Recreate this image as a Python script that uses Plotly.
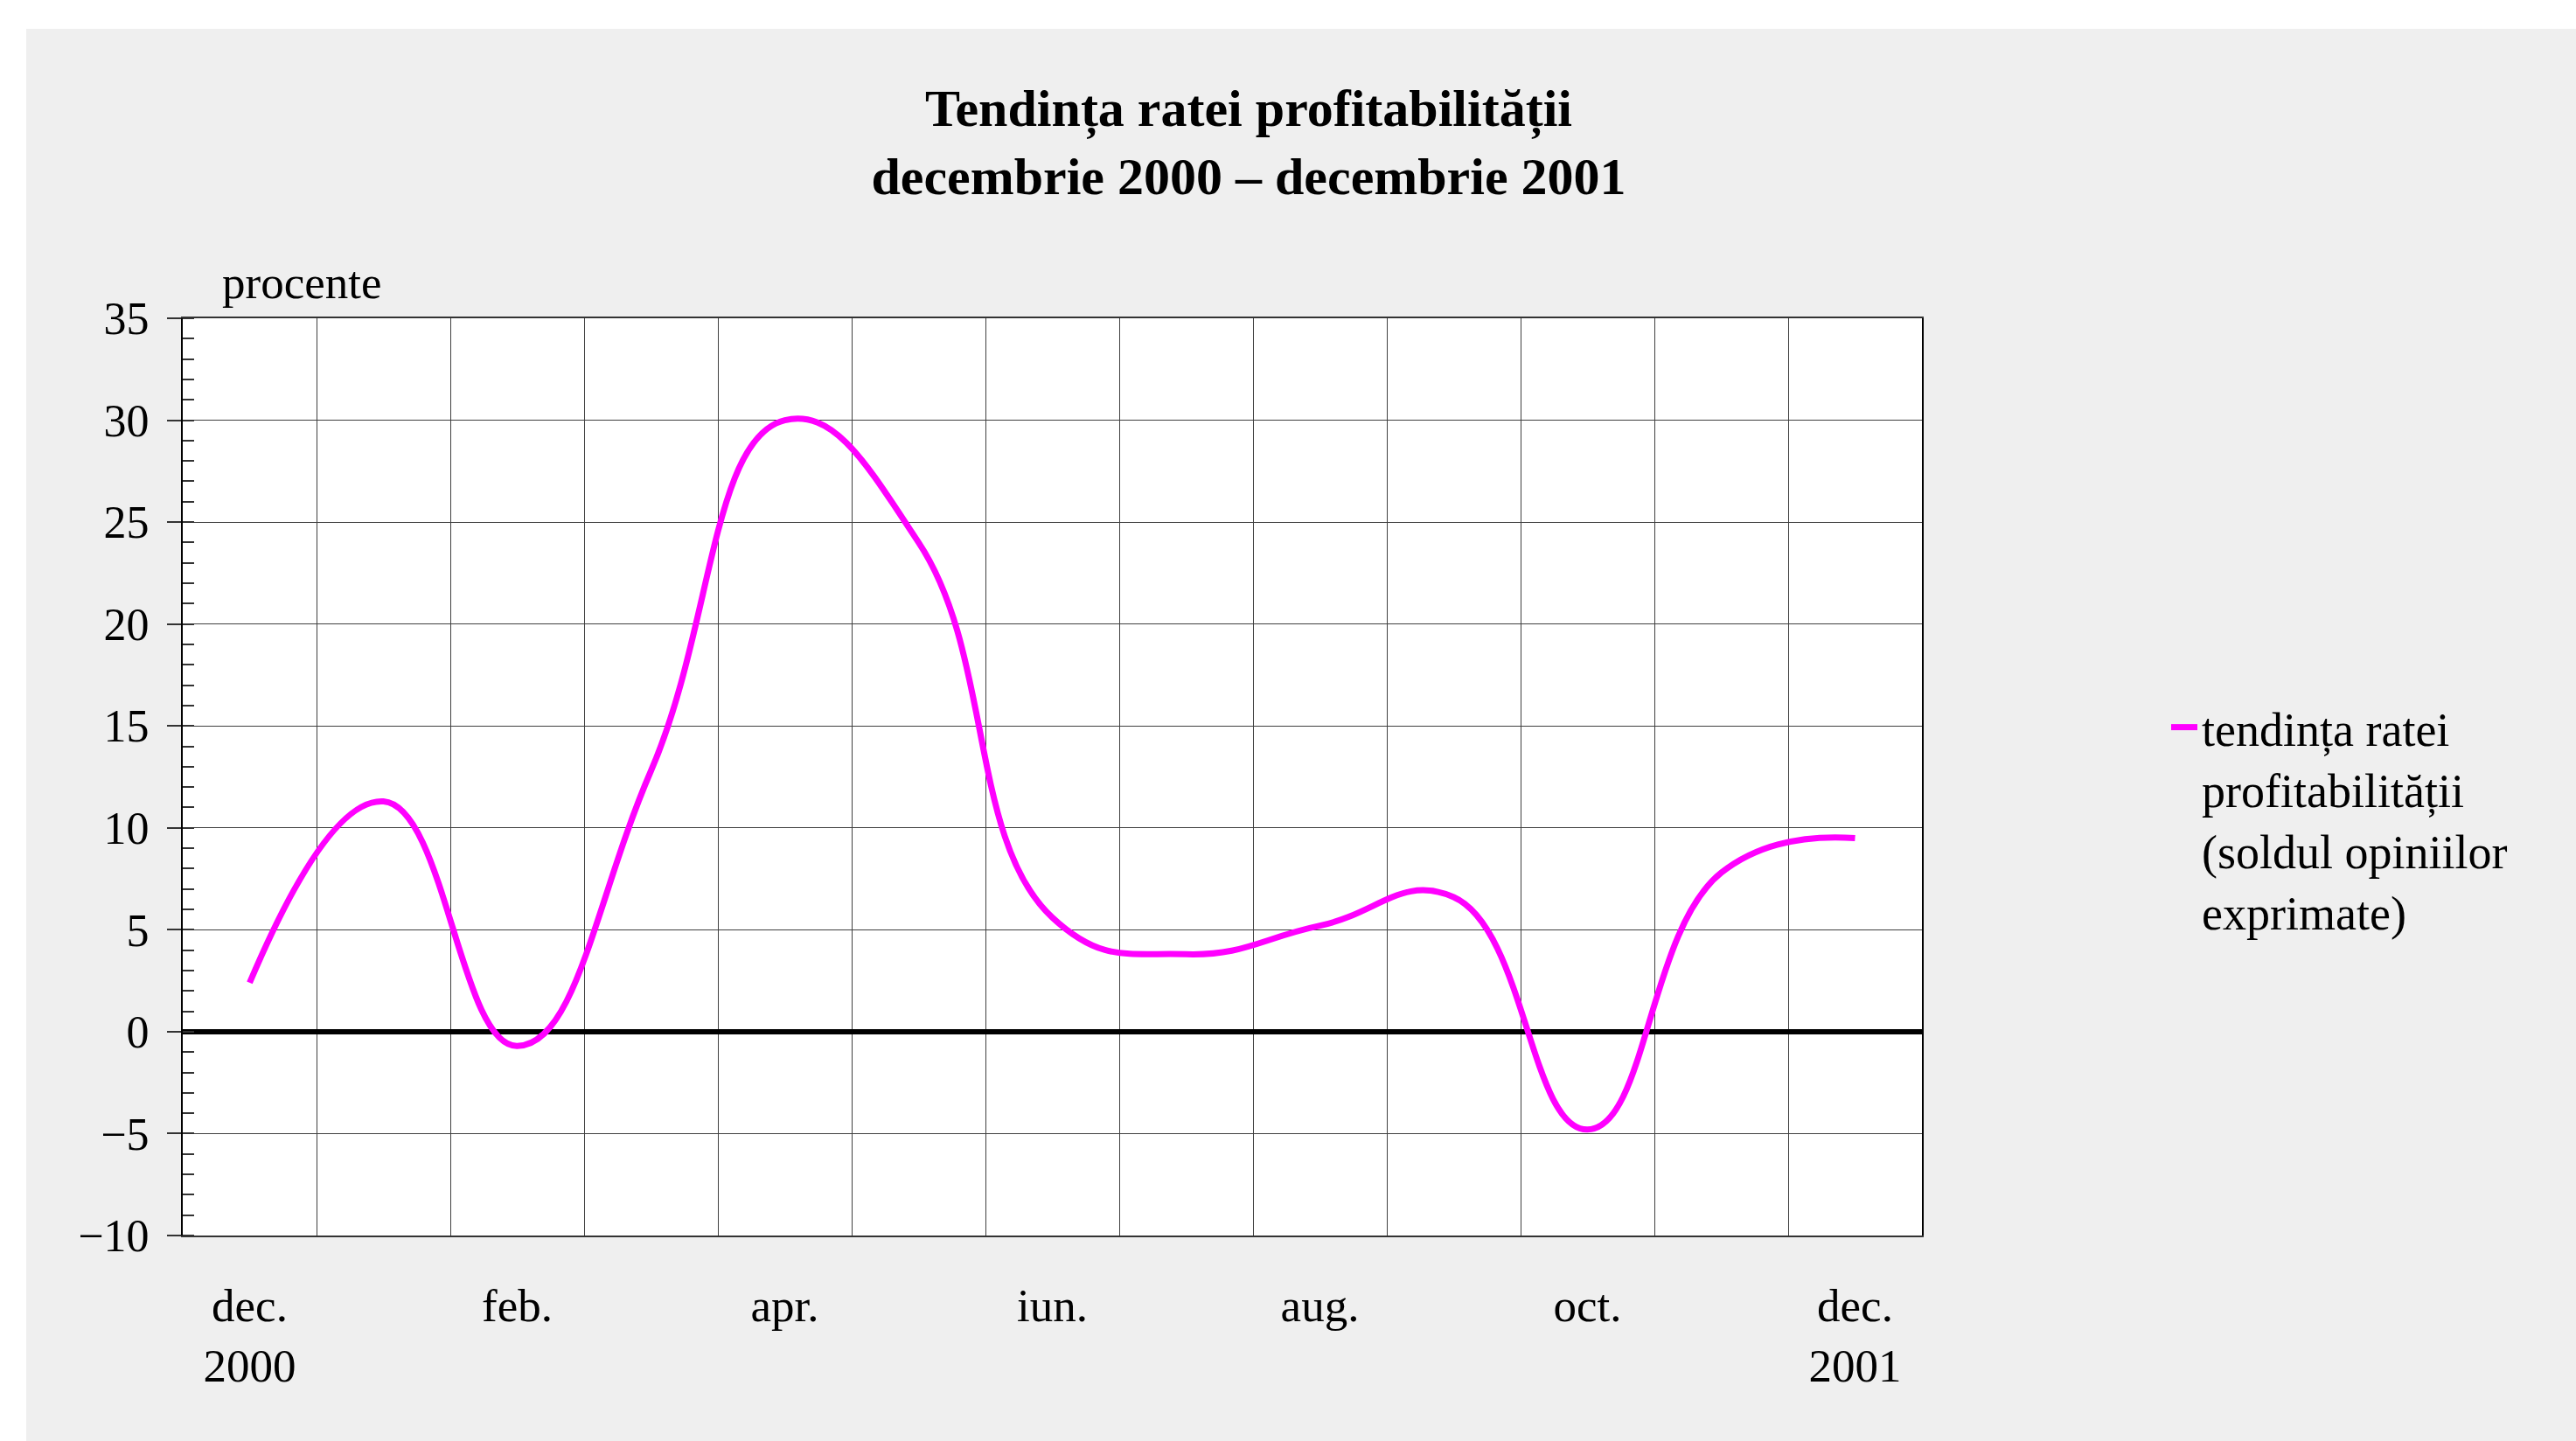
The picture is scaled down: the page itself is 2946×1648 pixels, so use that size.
import plotly.graph_objects as go

# ---- data ----
months = ["dec. 2000", "ian.", "feb.", "mar.", "apr.", "mai", "iun.",
          "iul.", "aug.", "sep.", "oct.", "nov.", "dec. 2001"]
tick_labels = ["dec.<br>2000", "", "feb.", "", "apr.", "", "iun.",
               "", "aug.", "", "oct.", "", "dec.<br>2001"]
rata_profit = [2.4, 11.3, -0.7, 12.8, 30.0, 24.0, 5.6, 3.8, 5.2, 6.6, -4.8, 7.8, 9.5]
series_name = "tendința ratei<br>profitabilității<br>(soldul opiniilor<br>exprimate)"
y_ticks = [35, 30, 25, 20, 15, 10, 5, 0, -5, -10]

W, H = 2946, 1648
L, R, T, B = 209, 748, 364, 235
PW, PH = W - L - R, H - T - B
FONT = "Liberation Serif, Times New Roman, serif"


def px_x(px):
    return (px - L) / PW


def px_y(py):
    return (H - B - py) / PH


fig = go.Figure()
fig.add_trace(go.Scatter(
    x=months, y=rata_profit, mode="lines", name=series_name,
    line=dict(color="#FF00FF", width=7, shape="spline", smoothing=1.3),
    showlegend=True,
))

fig.update_layout(
    width=W, height=H,
    margin=dict(l=L, r=R, t=T, b=B, pad=0),
    paper_bgcolor="#efefef",
    plot_bgcolor="#ffffff",
    font=dict(family=FONT, size=53, color="#000000"),
    title=dict(
        text="<b>Tendința ratei profitabilității</b><br><b>decembrie 2000 – decembrie 2001</b>",
        font=dict(family=FONT, size=60, color="#000000"),
        xref="container", x=1428 / W, xanchor="center",
        yref="container", y=1 - 144 / H, yanchor="middle",
    ),
    xaxis=dict(
        type="category", categoryorder="array", categoryarray=months,
        range=[-0.5, 12.5],
        tickmode="array", tickvals=months, ticktext=tick_labels,
        tickson="boundaries", ticks="", ticklabelstandoff=32,
        showgrid=True, gridcolor="#404040", gridwidth=1,
        showline=True, linecolor="#333333", linewidth=2, mirror=True,
        tickfont=dict(family=FONT, size=53, color="#000000"),
        fixedrange=True,
    ),
    yaxis=dict(
        range=[-10, 35], tickmode="array", tickvals=y_ticks,
        ticks="outside", ticklen=16, tickwidth=2, tickcolor="#333333",
        minor=dict(dtick=1, ticks="inside", ticklen=13, tickwidth=2,
                   tickcolor="#333333", showgrid=False),
        showgrid=True, gridcolor="#404040", gridwidth=1,
        zeroline=True, zerolinecolor="#000000", zerolinewidth=6,
        showline=True, linecolor="#000000", linewidth=2, mirror=True,
        tickfont=dict(family=FONT, size=52, color="#000000"),
        ticklabelstandoff=10,
        fixedrange=True,
    ),
    legend=dict(
        x=px_x(2478), y=px_y(790), xanchor="left", yanchor="top",
        xref="paper", yref="paper", valign="top",
        bgcolor="rgba(0,0,0,0)", borderwidth=0,
        font=dict(family=FONT, size=54, color="#000000"),
        tracegroupgap=0,
    ),
    annotations=[
        dict(text="procente", xref="paper", yref="paper",
             x=px_x(252), y=px_y(354), xanchor="left", yanchor="bottom",
             showarrow=False, font=dict(family=FONT, size=53, color="#000000")),
    ],
    shapes=[
        # white strips outside the dotted frame (top and left)
        dict(type="rect", xref="paper", yref="paper", layer="below",
             x0=px_x(0), x1=px_x(W), y0=px_y(33), y1=px_y(0),
             fillcolor="#ffffff", line=dict(width=0)),
        dict(type="rect", xref="paper", yref="paper", layer="below",
             x0=px_x(0), x1=px_x(30), y0=px_y(H), y1=px_y(0),
             fillcolor="#ffffff", line=dict(width=0)),
    ],
)

fig.write_html("out.html", config={"displayModeBar": False},
               post_script="document.body.style.margin='0';document.body.style.overflow='hidden';")
